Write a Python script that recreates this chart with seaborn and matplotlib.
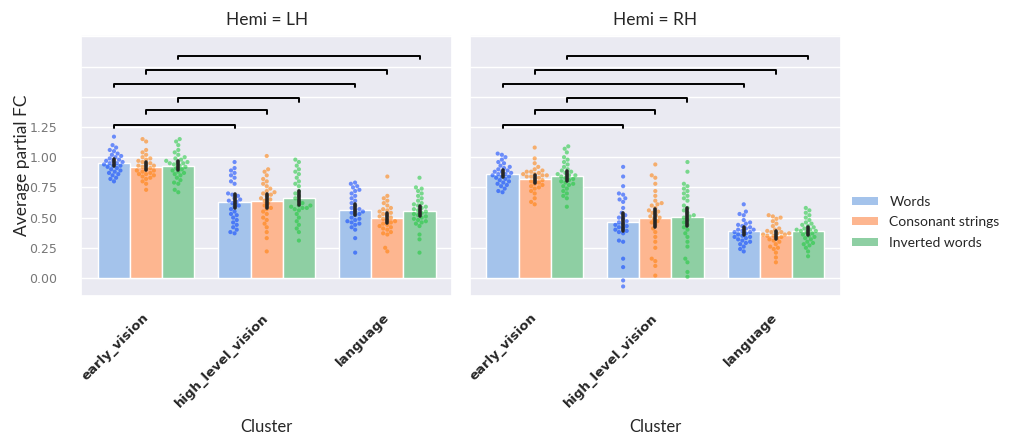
import numpy as np
import pandas as pd
import matplotlib
matplotlib.use('Agg')
import matplotlib.pyplot as plt
import seaborn as sns
from matplotlib.patches import Patch

# categories
hemis = ['LH', 'RH']
clusters = ['early_vision', 'high_level_vision', 'language']
conditions = ['Words', 'Consonant strings', 'Inverted words']

# per-subject average partial FC
lh_early_words = [1.17, 1.10, 1.08, 1.06, 1.05, 1.03, 1.02, 1.01, 1.00, 0.99,
                  0.98, 0.97, 0.97, 0.96, 0.95, 0.95, 0.94, 0.93, 0.93, 0.92,
                  0.91, 0.90, 0.89, 0.88, 0.87, 0.86, 0.85, 0.83, 0.82, 0.80]
lh_early_cons = [1.15, 1.13, 1.06, 1.04, 1.02, 1.00, 0.99, 0.98, 0.97, 0.96,
                 0.95, 0.94, 0.93, 0.93, 0.92, 0.91, 0.90, 0.89, 0.89, 0.88,
                 0.87, 0.86, 0.86, 0.85, 0.84, 0.83, 0.82, 0.80, 0.78, 0.73]
lh_early_inv = [1.15, 1.13, 1.10, 1.06, 1.04, 1.02, 1.00, 0.99, 0.98, 0.97,
                0.96, 0.96, 0.95, 0.95, 0.94, 0.93, 0.92, 0.91, 0.90, 0.89,
                0.88, 0.87, 0.86, 0.85, 0.83, 0.81, 0.79, 0.78, 0.73, 0.71]
lh_high_words = [0.96, 0.91, 0.89, 0.87, 0.85, 0.83, 0.80, 0.78, 0.70, 0.69,
                 0.68, 0.66, 0.65, 0.64, 0.63, 0.62, 0.60, 0.59, 0.57, 0.55,
                 0.53, 0.52, 0.50, 0.48, 0.46, 0.44, 0.42, 0.40, 0.38, 0.37]
lh_high_cons = [1.01, 0.90, 0.88, 0.85, 0.82, 0.80, 0.78, 0.76, 0.74, 0.72,
                0.71, 0.70, 0.69, 0.68, 0.66, 0.65, 0.64, 0.62, 0.60, 0.58,
                0.57, 0.55, 0.53, 0.50, 0.48, 0.45, 0.42, 0.38, 0.33, 0.22]
lh_high_inv = [0.98, 0.96, 0.93, 0.90, 0.88, 0.86, 0.83, 0.80, 0.78, 0.76,
               0.72, 0.70, 0.68, 0.66, 0.64, 0.62, 0.60, 0.59, 0.58, 0.57,
               0.60, 0.58, 0.56, 0.53, 0.50, 0.47, 0.44, 0.41, 0.38, 0.31]
lh_lang_words = [0.79, 0.78, 0.76, 0.75, 0.73, 0.72, 0.70, 0.68, 0.66, 0.64,
                 0.62, 0.60, 0.58, 0.57, 0.56, 0.55, 0.54, 0.53, 0.52, 0.50,
                 0.49, 0.48, 0.47, 0.46, 0.45, 0.44, 0.42, 0.40, 0.33, 0.21]
lh_lang_cons = [0.84, 0.68, 0.66, 0.64, 0.62, 0.60, 0.58, 0.57, 0.56, 0.55,
                0.54, 0.53, 0.52, 0.51, 0.50, 0.49, 0.48, 0.47, 0.46, 0.45,
                0.44, 0.43, 0.42, 0.41, 0.40, 0.38, 0.37, 0.36, 0.25, 0.22]
lh_lang_inv = [0.83, 0.75, 0.74, 0.72, 0.70, 0.68, 0.66, 0.64, 0.62, 0.61,
               0.60, 0.59, 0.58, 0.57, 0.56, 0.55, 0.54, 0.53, 0.52, 0.51,
               0.50, 0.49, 0.48, 0.47, 0.46, 0.45, 0.43, 0.36, 0.32, 0.21]

rh_early_words = [1.03, 1.02, 1.00, 0.98, 0.96, 0.95, 0.93, 0.92, 0.91, 0.90,
                  0.89, 0.88, 0.88, 0.87, 0.86, 0.86, 0.85, 0.84, 0.84, 0.83,
                  0.82, 0.81, 0.80, 0.79, 0.78, 0.77, 0.76, 0.74, 0.72, 0.71]
rh_early_cons = [1.08, 0.99, 0.95, 0.92, 0.90, 0.89, 0.88, 0.88, 0.87, 0.86,
                 0.86, 0.85, 0.85, 0.84, 0.84, 0.83, 0.82, 0.81, 0.80, 0.79,
                 0.78, 0.77, 0.76, 0.75, 0.74, 0.72, 0.70, 0.66, 0.63, 0.61]
rh_early_inv = [1.09, 1.07, 1.04, 1.00, 0.98, 0.96, 0.94, 0.92, 0.90, 0.89,
                0.88, 0.87, 0.86, 0.85, 0.85, 0.84, 0.83, 0.82, 0.81, 0.80,
                0.79, 0.78, 0.77, 0.76, 0.74, 0.72, 0.70, 0.68, 0.66, 0.59]
rh_high_words = [0.92, 0.84, 0.76, 0.70, 0.69, 0.66, 0.65, 0.63, 0.58, 0.54,
                 0.52, 0.50, 0.49, 0.47, 0.46, 0.45, 0.44, 0.43, 0.42, 0.41,
                 0.40, 0.39, 0.38, 0.37, 0.31, 0.30, 0.16, 0.09, -0.02, -0.07]
rh_high_cons = [0.94, 0.85, 0.83, 0.78, 0.72, 0.68, 0.64, 0.62, 0.61, 0.60,
                0.58, 0.56, 0.55, 0.54, 0.52, 0.51, 0.50, 0.49, 0.47, 0.46,
                0.44, 0.41, 0.38, 0.34, 0.30, 0.25, 0.16, 0.14, 0.10, 0.02]
rh_high_inv = [0.96, 0.88, 0.78, 0.76, 0.74, 0.72, 0.70, 0.68, 0.66, 0.64,
               0.60, 0.58, 0.56, 0.54, 0.52, 0.51, 0.50, 0.48, 0.46, 0.44,
               0.42, 0.40, 0.37, 0.34, 0.30, 0.26, 0.16, 0.13, 0.05, 0.01]
rh_lang_words = [0.61, 0.55, 0.53, 0.52, 0.48, 0.46, 0.45, 0.44, 0.43, 0.42,
                 0.41, 0.40, 0.40, 0.39, 0.38, 0.38, 0.37, 0.36, 0.35, 0.34,
                 0.34, 0.33, 0.32, 0.31, 0.30, 0.29, 0.28, 0.26, 0.24, 0.22]
rh_lang_cons = [0.52, 0.51, 0.50, 0.49, 0.47, 0.45, 0.43, 0.41, 0.40, 0.39,
                0.38, 0.38, 0.37, 0.37, 0.36, 0.36, 0.35, 0.35, 0.34, 0.33,
                0.32, 0.31, 0.30, 0.28, 0.26, 0.25, 0.24, 0.21, 0.17, 0.13]
rh_lang_inv = [0.58, 0.56, 0.54, 0.52, 0.50, 0.48, 0.46, 0.45, 0.44, 0.43,
               0.42, 0.41, 0.40, 0.40, 0.39, 0.39, 0.38, 0.37, 0.36, 0.35,
               0.34, 0.33, 0.32, 0.30, 0.29, 0.28, 0.27, 0.25, 0.22, 0.18]

# significance brackets: (cluster a, cluster b, condition index), same in both panels
sig_pairs = [(0, 1, 0), (0, 1, 1), (0, 1, 2), (0, 2, 0), (0, 2, 1), (0, 2, 2)]
sig_levels = [1.27, 1.39, 1.49, 1.61, 1.72, 1.84]

bar_colors = ['#a4c3eb', '#fdb690', '#8ecfa3']
point_colors = ['#023eff', '#ff7c00', '#1ac938']
label_font = ['Lato', 'DejaVu Sans']

groups = {
    ('LH', 'early_vision'): [lh_early_words, lh_early_cons, lh_early_inv],
    ('LH', 'high_level_vision'): [lh_high_words, lh_high_cons, lh_high_inv],
    ('LH', 'language'): [lh_lang_words, lh_lang_cons, lh_lang_inv],
    ('RH', 'early_vision'): [rh_early_words, rh_early_cons, rh_early_inv],
    ('RH', 'high_level_vision'): [rh_high_words, rh_high_cons, rh_high_inv],
    ('RH', 'language'): [rh_lang_words, rh_lang_cons, rh_lang_inv],
}
rows = []
for (hemi, cl), lists in groups.items():
    for cond, vals in zip(conditions, lists):
        for v in vals:
            rows.append({'Hemi': hemi, 'Cluster': cl, 'Condition': cond, 'FC': v})
df = pd.DataFrame(rows)

sns.set_theme(style='darkgrid')
plt.rcParams['font.family'] = ['DejaVu Sans']

fig, axes = plt.subplots(1, 2, figsize=(10.15, 4.4), dpi=100, sharey=True)
fig.subplots_adjust(left=0.0798, right=0.8286, bottom=0.327, top=0.920, wspace=0.046)

offset = 0.8 / len(conditions)
for ax, hemi in zip(axes, hemis):
    sub = df[df['Hemi'] == hemi]
    sns.barplot(data=sub, x='Cluster', y='FC', hue='Condition', order=clusters,
                hue_order=conditions, palette=bar_colors, saturation=1,
                errorbar=('ci', 95), seed=0,
                err_kws={'color': '#262626', 'linewidth': 2.6},
                edgecolor='white', linewidth=1, legend=False, ax=ax)
    sns.swarmplot(data=sub, x='Cluster', y='FC', hue='Condition', order=clusters,
                  hue_order=conditions, palette=point_colors, dodge=True,
                  size=3, alpha=0.55, linewidth=0, legend=False, zorder=1.5, ax=ax)

    # brackets between conditions of different clusters
    for (ca, cb, h), lev in zip(sig_pairs, sig_levels):
        x1 = ca + (h - 1) * offset
        x2 = cb + (h - 1) * offset
        ax.plot([x1, x1, x2, x2], [lev - 0.03, lev, lev, lev - 0.03],
                color='black', lw=1.4, zorder=3)

    ax.set_ylim(-0.15, 2.01)
    ticks = np.arange(0, 2.01, 0.25)
    ax.set_yticks(ticks)
    ax.set_yticklabels([f'{t:.2f}' if t <= 1.25 else '' for t in ticks])
    ax.tick_params(axis='y', labelsize=9, labelcolor='#777777', pad=11)
    ax.tick_params(axis='x', pad=8)
    for lab in ax.get_xticklabels():
        lab.set_rotation(45)
        lab.set_ha('right')
        lab.set_va('center')
        lab.set_rotation_mode('anchor')
        lab.set_fontweight('bold')
        lab.set_fontsize(9.5)
    ax.set_title(f'Hemi = {hemi}', fontsize=12.5, family=label_font, pad=7)
    ax.set_xlabel('Cluster', fontsize=12, family=label_font)
    ax.xaxis.set_label_coords(0.5, -0.47)
    ax.set_ylabel('')

axes[0].set_ylabel('Average partial FC', fontsize=12.5, family=label_font)
axes[0].yaxis.set_label_coords(-0.137, 0.5)

handles = [Patch(facecolor=c, edgecolor='none', label=l) for c, l in zip(bar_colors, conditions)]
fig.legend(handles=handles, loc='center left', bbox_to_anchor=(0.827, 0.495),
           frameon=False, handlelength=1.9, handleheight=0.5, handletextpad=0.8,
           labelspacing=0.6, prop={'family': label_font, 'size': 10})

fig.savefig('out.png', dpi=100)
